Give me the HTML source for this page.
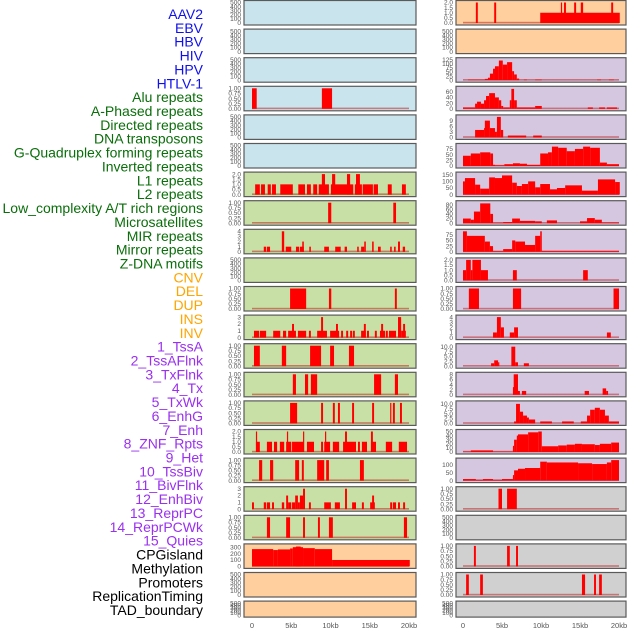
<!DOCTYPE html>
<html><head><meta charset="utf-8"><style>
body{margin:0;background:#fff;width:630px;height:630px;overflow:hidden}
svg{display:block;font-family:"Liberation Sans",sans-serif}
</style></head><body>
<svg id="chart" width="630" height="630" viewBox="0 0 630 630"></svg>
<script>
const labels=["AAV2","EBV","HBV","HIV","HPV","HTLV-1","Alu repeats","A-Phased repeats","Directed repeats","DNA transposons","G-Quadruplex forming repeats","Inverted repeats","L1 repeats","L2 repeats","Low_complexity A/T rich regions","Microsatellites","MIR repeats","Mirror repeats","Z-DNA motifs","CNV","DEL","DUP","INS","INV","1_TssA","2_TssAFlnk","3_TxFlnk","4_Tx","5_TxWk","6_EnhG","7_Enh","8_ZNF_Rpts","9_Het","10_TssBiv","11_BivFlnk","12_EnhBiv","13_ReprPC","14_ReprPCWk","15_Quies","CPGisland","Methylation","Promoters","ReplicationTiming","TAD_boundary"];
const labelGroups=[6,13,5,15,5];
const groupColors=["#1010ee","#0a6e0a","#ffa500","#9a30f0","#000000"];
const xTickValues=[0,5,10,15,20];
const xTickLabels=["0","5kb","10kb","15kb","20kb"];
// left column
const leftBg=["b","b","b","b","b","b","g","g","g","g","g","g","g","g","g","g","g","g","g","o","o","o"];
const leftMax=[500,500,500,1,500,500,2,1,4,500,1,3,1,1,1,2,1,3,1,320,500,500];
const leftSegs=[[],[],[],
[[0,0.6,1],[8.9,10.2,1]],[],[],
[[0.4,1.0,1],[1.15,1.65,1],[2.0,2.4,1],[2.55,3.05,1],[3.6,5.2,1],[5.9,6.75,1],[7.0,7.5,1],[7.8,8.3,1],[8.5,9.8,1],[8.9,9.3,2],[10.05,12.9,1],[10.2,10.6,2],[12.1,12.5,2],[13.1,14.0,1],[13.25,13.75,2],[14.1,15.4,1],[15.5,16.05,1],[17.3,17.8,1],[19.1,19.6,1]],
[[9.7,10.1,1],[18.0,18.35,1]],
[[1.5,1.8,1],[1.9,2.3,1],[3.8,4.1,4],[4.3,5.0,1],[5.6,6.0,1],[6.1,6.6,1],[6.4,6.6,2],[7.3,7.5,1],[9.2,9.8,1],[10.6,11.3,1],[11.8,12.1,1],[13.4,13.6,1],[13.9,14.3,1],[14.3,14.5,2],[15.3,15.5,2],[16.05,16.4,1],[17.6,17.8,1],[18.1,18.3,1],[18.6,18.85,2],[19.2,19.5,1]],
[],
[[4.85,6.9,1],[9.8,10.1,1],[18.2,18.45,1]],
[[0.25,0.9,1],[1.0,1.8,1],[2.7,3.6,1],[3.95,4.35,1],[4.6,5.6,1],[5.1,5.35,2],[5.85,6.9,1],[7.25,7.5,1],[8.3,9.55,1],[8.8,9.05,3],[9.95,11.1,1],[10.7,10.95,2],[11.35,11.6,1],[12.0,12.25,1],[12.5,12.75,1],[12.85,13.1,1],[13.9,14.5,1],[14.25,14.5,2],[14.65,14.9,1],[15.65,15.9,1],[16.3,16.95,1],[16.45,16.7,2],[17.05,17.3,1],[17.45,18.35,1],[18.6,19.0,3],[19.0,19.6,1],[19.25,19.5,2]],
[[0.25,1.0,1],[3.8,4.35,1],[7.4,8.8,1],[9.95,10.45,1],[12.35,13.0,1]],
[[5.2,5.6,1],[6.75,7.15,1],[7.5,8.3,1],[15.55,16.45,1],[18.2,18.6,1]],
[[4.85,5.75,1],[8.8,9.05,1],[10.3,10.55,1],[10.95,11.2,1],[12.75,13.0,1],[15.3,15.55,1],[17.6,17.75,1],[17.95,18.2,1],[18.85,19.1,1]],
[[0.5,1.0,1],[0.5,0.65,2],[1.9,2.55,1],[2.8,3.2,1],[3.55,4.1,1],[4.35,5.0,1],[4.45,4.6,2],[5.1,6.6,1],[6.5,6.65,2],[7.0,7.9,1],[8.8,9.05,1],[9.2,9.95,1],[9.3,9.45,2],[10.3,11.1,1],[11.6,13.25,1],[11.85,12.1,2],[13.5,13.75,1],[14.0,14.65,1],[15.15,15.8,1],[15.15,15.4,2],[17.05,17.85,1],[18.7,19.75,1]],
[[0.9,1.3,1],[2.3,2.7,1],[5.5,6.0,1],[6.35,6.6,1],[8.3,9.2,1],[9.45,9.8,1],[13.75,14.25,1]],
[[0,0.25,1],[1.5,1.8,1],[1.9,2.3,1],[2.55,2.8,1],[3.8,4.1,1],[4.35,4.6,2],[4.6,5.0,1],[5.1,5.5,1],[5.5,5.85,2],[5.85,6.1,1],[6.1,6.5,2],[6.5,6.75,3],[7.25,7.5,1],[9.2,10.05,1],[10.55,11.2,1],[11.85,12.1,3],[12.75,13.25,1],[14.0,14.25,1],[15.05,15.65,1],[15.3,15.55,2],[17.6,17.85,1],[17.95,18.35,1],[18.6,18.85,1],[19.25,19.5,1]],
[[1.9,2.3,1],[4.35,4.85,1],[6.5,6.75,1],[8.4,8.65,1],[9.8,10.3,1],[19.35,19.75,1]],
[[0,2.7,270],[2.7,3.3,255],[3.3,4.85,265],[4.85,5.2,280],[5.2,6.5,300],[5.6,6.2,310],[6.5,8.0,285],[8.0,10.2,270],[10.2,20.1,100]],
[],[]];
const leftTicks=[null,null,null,[0,0.25,0.5,0.75,1],null,null,[0,0.5,1,1.5,2],[0,0.25,0.5,0.75,1],[0,1,2,3,4],null,[0,0.25,0.5,0.75,1],[0,1,2,3],[0,0.25,0.5,0.75,1],[0,0.25,0.5,0.75,1],[0,0.25,0.5,0.75,1],[0,0.5,1,1.5,2],[0,0.25,0.5,0.75,1],[0,1,2,3],[0,0.25,0.5,0.75,1],[0,100,200,300],null,null];
const leftDec=[0,0,0,2,0,0,1,2,0,0,2,0,2,2,2,1,2,0,2,0,0,0];
// right column
const rightBg=["o","o","p","p","p","p","p","p","p","p","p","p","p","p","p","p","p","y","y","y","y","y"];
const rightMax=[2,500,125,72,11,90,155,88,90,2,1,4,10.5,8,10.5,50,130,1,500,1,1,500];
const rightSegs=[
[[1.65,1.9,2],[4.0,4.25,2],[9.9,20.1,1],[12.55,12.7,2],[12.95,13.2,2],[14.25,14.5,2],[15.1,15.4,2],[19.0,19.25,2]],
[],
[[0.65,2.8,3],[2.8,3.2,8],[3.2,3.45,15],[3.45,3.85,40],[3.85,4.1,70],[4.1,4.6,85],[4.6,5.1,120],[5.1,5.65,95],[5.65,6.3,110],[6.3,6.55,55],[6.55,6.9,35],[6.9,7.2,10],[7.8,8.2,3],[9.25,10.1,3],[17.2,17.7,3],[18.7,19.35,3]],
[[0,1.55,5],[1.55,1.8,18],[1.8,2.3,25],[2.3,2.7,18],[2.7,2.95,30],[2.95,3.35,45],[3.35,4.1,55],[4.1,4.6,40],[4.6,4.9,30],[4.9,5.15,10],[5.15,6.0,5],[6.0,6.2,30],[6.2,6.55,70],[6.55,6.9,30],[6.9,9.25,5],[9.25,10.1,10],[16.0,16.65,5],[17.45,18.2,5],[18.45,19.75,5]],
[[1.55,2.7,4],[2.7,2.8,5],[2.8,3.45,9],[3.45,4.1,5],[4.1,4.35,3],[4.35,4.85,11],[4.85,5.15,4],[5.75,8.1,1],[9.0,10.1,1]],
[[0,1.0,45],[1.0,2.2,55],[2.2,3.5,60],[3.5,3.85,55],[3.85,4.1,5],[4.1,5.3,3],[5.3,6.4,8],[6.4,7.3,12],[7.3,8.2,10],[8.2,9.9,5],[9.9,10.9,55],[10.9,11.4,60],[11.4,12.2,85],[12.2,13.3,80],[13.3,14.35,65],[14.35,15.4,75],[15.4,16.3,85],[16.3,17.55,80],[17.55,18.45,15],[18.45,20.0,8]],
[[0,0.25,100],[0.25,1.55,125],[1.55,2.2,75],[2.2,3.35,45],[3.35,4.1,130],[4.1,5.0,125],[5.0,6.3,145],[6.3,6.9,90],[6.9,7.55,65],[7.55,8.35,80],[8.35,9.25,100],[9.25,9.9,55],[9.9,11.15,80],[11.15,12.05,40],[12.05,13.1,50],[13.1,15.25,70],[15.25,17.3,30],[17.3,19.5,115],[19.5,20.1,95]],
[[0,1.0,20],[1.0,1.4,15],[1.4,2.2,50],[2.2,3.5,85],[3.5,3.85,40],[3.85,5.15,2],[5.15,6.3,5],[6.3,7.3,20],[7.3,9.25,10],[9.25,10.1,8],[10.75,12.05,12],[15.0,15.9,8],[15.9,16.9,22],[16.9,17.8,15],[17.8,20,3]],
[[0,0.5,90],[0.5,2.8,70],[2.8,3.45,45],[3.45,3.85,25],[3.85,5.15,3],[5.15,6.3,12],[6.3,6.7,50],[6.7,7.95,45],[7.95,9.25,30],[9.25,9.9,70],[9.9,10.1,90],[10.1,20,4]],
[[0,0.4,1],[0.4,1.0,2],[1.0,1.2,1],[1.2,2.3,2],[2.3,3.2,1],[6.4,6.9,1],[15.4,16.0,1]],
[[0.75,2.05,1],[6.4,7.45,1],[19.3,20.0,1]],
[[3.85,4.35,1],[4.35,4.85,4],[4.85,5.25,2],[6.0,6.55,1],[6.55,7.05,2],[18.45,18.95,1]],
[[3.6,4.0,1.5],[4.0,4.5,3],[4.5,4.65,2],[6.2,6.7,10],[6.7,7.05,2],[7.8,8.45,1.5]],
[[6.4,6.5,3],[6.5,7.05,8],[7.05,7.3,1.5],[7.55,8.1,1.5],[15.6,16.15,1.5],[17.9,18.35,2.5],[18.35,18.6,1.5]],
[[6.55,6.8,1],[6.8,7.3,10],[7.3,7.7,6],[7.7,8.2,4],[8.2,8.45,3],[8.45,9.25,2],[9.9,11.4,1],[12.7,14.2,1],[15.1,15.9,1],[15.9,16.3,4],[16.3,16.9,7],[16.9,17.55,8],[17.55,18.2,7],[18.2,18.7,4],[18.7,20,1]],
[[0,1.0,1],[1.0,3.85,4],[3.85,6.4,1],[6.4,6.55,15],[6.55,6.9,30],[6.9,7.05,40],[7.05,8.35,43],[8.35,9.65,48],[9.65,10.1,50],[10.1,12.2,14],[12.2,13.3,16],[13.3,14.35,18],[14.35,15.25,20],[15.25,16.9,19],[16.9,17.55,17],[17.55,19.0,20],[19.0,20.0,23]],
[[0,1.65,10],[1.65,2.55,5],[2.55,3.85,10],[3.85,5.0,5],[5.0,6.4,10],[6.4,6.55,35],[6.55,7.05,65],[7.05,7.95,75],[7.95,9.9,80],[9.9,10.75,120],[10.75,14.75,115],[14.75,16.55,110],[16.55,18.45,105],[18.45,19.0,115],[19.0,20.0,130]],
[[4.55,5.0,1],[5.65,6.9,1]],
[],
[[1.4,1.65,1],[5.65,6.0,1],[6.8,7.05,1]],
[[0.4,0.75,1],[2.2,2.55,1],[15.25,15.65,1],[16.8,17.05,1],[17.45,17.8,1]],
[]];
const rightTicks=[[0,0.5,1,1.5,2],null,[0,25,50,75,100,125],[0,20,40,60],[0,3,6,9],[0,25,50,75],[0,50,100,150],[0,20,40,60,80],[0,25,50,75],[0,0.5,1,1.5,2],[0,0.25,0.5,0.75,1],[0,1,2,3,4],[0,2.5,5,7.5,10],[0,2,4,6,8],[0,2.5,5,7.5,10],[0,10,20,30,40,50],[0,50,100],[0,0.25,0.5,0.75,1],null,[0,0.25,0.5,0.75,1],[0,0.25,0.5,0.75,1],null];
const rightDec=[1,0,0,0,0,0,0,0,0,1,2,0,1,0,1,0,0,2,0,2,2,0];

const bgColors={b:"#c9e4ec",g:"#c8e0a5",o:"#ffcf9e",p:"#d6c7e1",y:"#d0d0d0"};
const NS="http://www.w3.org/2000/svg";
const svg=document.getElementById("chart");
function mk(tag,attrs,parent){const e=document.createElementNS(NS,tag);for(const k in attrs)e.setAttribute(k,attrs[k]);(parent||svg).appendChild(e);return e;}

// labels
let li=0;
labelGroups.forEach((n,g)=>{for(let i=0;i<n;i++){const t=mk("text",{x:203,y:19+li*13.86,"text-anchor":"end","font-size":"14",fill:groupColors[g]});t.textContent=labels[li];


li++;}});

const ROWH=28.6;
function drawColumn(side,px0,px1,x0,x1,bg,maxs,segs,ticks,decs){
  const xs=v=>x0+(x1-x0)*v/20;
  for(let r=0;r<22;r++){
    const top=r*ROWH+0.5, h=(r===21?16:24.5);
    const g=mk("g",{});
    
    
    mk("rect",{x:px0,y:top,width:px1-px0,height:h,fill:bgColors[bg[r]],stroke:"#5a5a5a","stroke-width":1.2},g);
    const bot=top+h-2, ph=h-4;
    const ys=v=>bot-ph*v/maxs[r];
    const s=segs[r];
    if(s.length){
      mk("rect",{x:xs(0),y:bot-1.2,width:xs(20)-xs(0),height:1.6,fill:"rgba(190,40,40,0.55)"},g);
    }
    s.forEach(d=>{
      const b=mk("rect",{x:xs(d[0]),y:ys(d[2]),width:Math.max(1.2,xs(d[1])-xs(d[0])),height:bot-ys(d[2]),fill:"#ff0000"},g);
      
      
    });
    let tk=ticks[r], dec=decs[r], mx=maxs[r];
    if(!tk){tk=[0,100,200,300,400,500];}
    tk.forEach(v=>{
      const t=mk("text",{x:px0-3,y:ys(v)+2.2,"text-anchor":"end","font-size":"6.5",fill:"#555"},g);
      t.textContent=v.toFixed(dec);
      
      
    });
  }
  xTickValues.forEach((v,i)=>{
    const t=mk("text",{x:xs(v),y:628,"text-anchor":"middle","font-size":"7.5",fill:"#555"});
    t.textContent=xTickLabels[i];
    
    
  });
}
drawColumn("left",244,416,252,409,leftBg,leftMax,leftSegs,leftTicks,leftDec);
drawColumn("right",456,626,463,619,rightBg,rightMax,rightSegs,rightTicks,rightDec);
</script>
</body></html>
